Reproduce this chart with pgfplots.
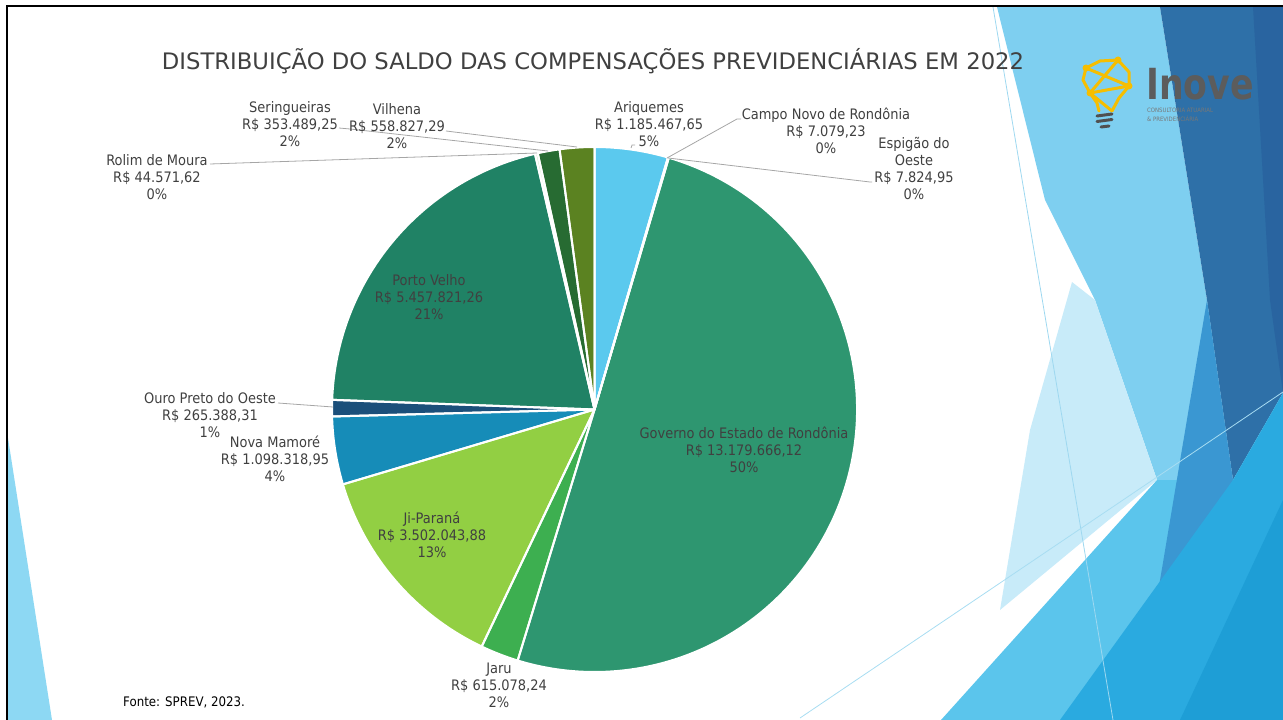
\documentclass[border=0pt]{standalone}
\usepackage{pgfplots}
\pgfplotsset{compat=1.18}
\usepackage{pgfplotstable}
\usepackage{fontspec}
\setmainfont{DejaVu Sans Condensed}
\newfontfamily\titlefont{DejaVu Sans}

\definecolor{lab}{HTML}{404040}
\definecolor{lead}{HTML}{A6A6A6}
\definecolor{s0}{HTML}{5BC9EE}
\definecolor{s1}{HTML}{A5A5A5}
\definecolor{s2}{HTML}{FFC000}
\definecolor{s3}{HTML}{2E9670}
\definecolor{s4}{HTML}{3DAF50}
\definecolor{s5}{HTML}{92CF43}
\definecolor{s6}{HTML}{168CB8}
\definecolor{s7}{HTML}{1B4F7A}
\definecolor{s8}{HTML}{208265}
\definecolor{s9}{HTML}{C5E0B4}
\definecolor{s10}{HTML}{276B32}
\definecolor{s11}{HTML}{5B8221}
\tikzset{lbl/.style={font=\fontsize{14.5}{17}\selectfont,text=lab,align=center,inner sep=0pt}}

% order: clockwise from 12 o'clock
\pgfplotstableread{
id value
0 1185467.65
1 7079.23
2 7824.95
3 13179666.12
4 615078.24
5 3502043.88
6 1098318.95
7 265388.31
8 5457821.26
9 44571.62
10 353489.25
11 558827.29
}\piedata

\gdef\cum{0}
\pgfplotstableforeachcolumnelement{value}\of\piedata\as\v{\xdef\cum{\fpeval{\cum+\v}}}
\xdef\total{\cum}
\gdef\cum{0}
\pgfplotstableforeachcolumnelement{value}\of\piedata\as\v{%
  \expandafter\xdef\csname sa\pgfplotstablerow\endcsname{\fpeval{round(90-360*\cum/\total,4)}}%
  \xdef\cum{\fpeval{\cum+\v}}%
  \expandafter\xdef\csname sb\pgfplotstablerow\endcsname{\fpeval{round(90-360*\cum/\total,4)}}%
}

\begin{document}
\begin{tikzpicture}
\begin{axis}[x=1bp,y=1bp,xmin=0,xmax=1283,ymin=0,ymax=720,y dir=reverse,
  hide axis,clip=false,scale only axis,anchor=south west,at={(0,0)}]
% ---------- background decoration ----------
\begin{scope}
\clip (axis cs:8,7) rectangle (axis cs:1283,720);
\fill[fill={rgb,255:red,126;green,207;blue,240}] (axis cs:997,7) -- (axis cs:1160,7) -- (axis cs:1207,300) -- (axis cs:1233,480) -- (axis cs:1157,480) -- (axis cs:1095,300) -- (axis cs:1045,200) -- cycle;
\fill[fill={rgb,255:red,200;green,235;blue,249}] (axis cs:1072,282) -- (axis cs:1095,300) -- (axis cs:1157,480) -- (axis cs:1000,610) -- (axis cs:1030,430) -- cycle;
\fill[fill={rgb,255:red,46;green,112;blue,168}] (axis cs:1160,7) -- (axis cs:1283,7) -- (axis cs:1283,393) -- (axis cs:1233,480) -- (axis cs:1207,300) -- cycle;
\fill[fill={rgb,255:red,41;green,100;blue,160}] (axis cs:1253,7) -- (axis cs:1283,7) -- (axis cs:1283,393) -- (axis cs:1270,300) -- cycle;
\fill[fill={rgb,255:red,91;green,197;blue,236}] (axis cs:941,720) -- (axis cs:1157,480) -- (axis cs:1233,480) -- (axis cs:1283,393) -- (axis cs:1283,720) -- cycle;
\fill[fill={rgb,255:red,58;green,151;blue,210}] (axis cs:1207,300) -- (axis cs:1233,480) -- (axis cs:1150,640) -- cycle;
\fill[fill={rgb,255:red,42;green,170;blue,224}] (axis cs:1060,720) -- (axis cs:1233,480) -- (axis cs:1283,393) -- (axis cs:1283,720) -- cycle;
\fill[fill={rgb,255:red,30;green,158;blue,214}] (axis cs:1180,720) -- (axis cs:1283,500) -- (axis cs:1283,720) -- cycle;
\draw[line width=0.8bp,color={rgb,255:red,158;green,216;blue,240}] (axis cs:993,7) -- (axis cs:1113,720);
\draw[line width=0.8bp,color={rgb,255:red,168;green,221;blue,242}] (axis cs:800,718) -- (axis cs:1283,392);
\fill[fill={rgb,255:red,141;green,216;blue,243}] (axis cs:8,438) -- (axis cs:52,720) -- (axis cs:8,720) -- cycle;
\end{scope}
\draw[black,line width=2bp] (axis cs:7,725) -- (axis cs:7,6) -- (axis cs:1290,6);
% ---------- title ----------
\node[anchor=base,text=lab,font=\titlefont\fontsize{22.8}{26}\selectfont,inner sep=0pt] at (axis cs:593,70) {DISTRIBUIÇÃO DO SALDO DAS COMPENSAÇÕES PREVIDENCIÁRIAS EM 2022};
% ---------- logo ----------
\begin{scope}[line width=3bp,color={rgb,255:red,246;green,190;blue,0},line cap=round,line join=round]
\draw (axis cs:1086,68) -- (axis cs:1100,61) -- (axis cs:1118,60) -- (axis cs:1129,72) -- (axis cs:1129,86) -- (axis cs:1119,98) -- (axis cs:1112,111);
\draw (axis cs:1086,68) -- (axis cs:1083,80) -- (axis cs:1090,93) -- (axis cs:1097,103) -- (axis cs:1099,111);
\draw (axis cs:1086,68) -- (axis cs:1129,86) -- (axis cs:1090,93);
\draw (axis cs:1118,60) -- (axis cs:1090,93);
\draw (axis cs:1090,93) -- (axis cs:1112,111);
\fill (axis cs:1086,68) circle (3.5bp); \fill (axis cs:1118,60) circle (3.5bp);
\fill (axis cs:1129,86) circle (3.5bp); \fill (axis cs:1090,93) circle (3.5bp);
\end{scope}
\begin{scope}[line width=3bp,color={rgb,255:red,80;green,80;blue,80},line cap=round]
\draw (axis cs:1097,116) -- (axis cs:1112,114);
\draw (axis cs:1097,121.5) -- (axis cs:1112,119.5);
\draw (axis cs:1101,127) -- (axis cs:1109,126);
\end{scope}
\node[anchor=base west,inner sep=0pt,xscale=0.9,text={rgb,255:red,92;green,92;blue,92},font=\bfseries\fontsize{43}{43}\selectfont] at (axis cs:1146,100) {Inove};
\node[anchor=base west,inner sep=0pt,text={rgb,255:red,120;green,120;blue,120},font=\fontsize{6}{7}\selectfont,align=left] at (axis cs:1147,113) {CONSULTORIA ATUARIAL};
\node[anchor=base west,inner sep=0pt,text={rgb,255:red,120;green,120;blue,120},font=\fontsize{6}{7}\selectfont,align=left] at (axis cs:1147,122) {\& PREVIDENCIÁRIA};
% ---------- pie ----------
\pgfplotsinvokeforeach{0,...,11}{%
  \fill[s#1] (axis cs:594.5,409.5) -- ++(\csname sa#1\endcsname:262.5bp) arc[start angle=\csname sa#1\endcsname,end angle=\csname sb#1\endcsname,radius=262.5bp] -- cycle;
}
\pgfplotsinvokeforeach{0,...,11}{%
  \draw[white,line width=2bp,line join=round] (axis cs:594.5,409.5) -- ++(\csname sa#1\endcsname:262.5bp) arc[start angle=\csname sa#1\endcsname,end angle=\csname sb#1\endcsname,radius=262.5bp] -- cycle;
}
% ---------- leader lines ----------
\begin{scope}[lead,line width=0.8bp]
\draw (axis cs:631,148) -- (axis cs:632,145) -- (axis cs:635,145);
\draw (axis cs:667,158) -- (axis cs:737,119) -- (axis cs:741,119);
\draw (axis cs:668,158) -- (axis cs:870,182) -- (axis cs:872,182);
\draw (axis cs:210,164) -- (axis cs:537,153);
\draw (axis cs:339,128) -- (axis cs:350,129) -- (axis cs:548,151);
\draw (axis cs:446,131) -- (axis cs:577,147);
\draw (axis cs:278,403) -- (axis cs:333,407);
\end{scope}
% ---------- labels ----------
\node[lbl] at (axis cs:649,124) {Ariquemes\\R\$ 1.185.467,65\\5\%};
\node[lbl] at (axis cs:826,131) {Campo Novo de Rondônia\\R\$ 7.079,23\\0\%};
\node[lbl] at (axis cs:914,168.5) {Espigão do\\Oeste\\R\$ 7.824,95\\0\%};
\node[lbl] at (axis cs:744,450) {Governo do Estado de Rondônia\\R\$ 13.179.666,12\\50\%};
\node[lbl] at (axis cs:499,685) {Jaru\\R\$ 615.078,24\\2\%};
\node[lbl] at (axis cs:432,535) {Ji-Paraná\\R\$ 3.502.043,88\\13\%};
\node[lbl] at (axis cs:275,459) {Nova Mamoré\\R\$ 1.098.318,95\\4\%};
\node[lbl] at (axis cs:210,415) {Ouro Preto do Oeste\\R\$ 265.388,31\\1\%};
\node[lbl] at (axis cs:429,297) {Porto Velho\\R\$ 5.457.821,26\\21\%};
\node[lbl] at (axis cs:157,177) {Rolim de Moura\\R\$ 44.571,62\\0\%};
\node[lbl] at (axis cs:290,124) {Seringueiras\\R\$ 353.489,25\\2\%};
\node[lbl] at (axis cs:397,126) {Vilhena\\R\$ 558.827,29\\2\%};
% ---------- source ----------
\node[anchor=base west,inner sep=0pt,text=black,font=\fontsize{13.2}{15}\selectfont] at (axis cs:123,706) {Fonte: SPREV, 2023.};
\end{axis}
\pgfresetboundingbox
\path (current axis.south west) rectangle (current axis.north east);
\end{tikzpicture}
\end{document}
